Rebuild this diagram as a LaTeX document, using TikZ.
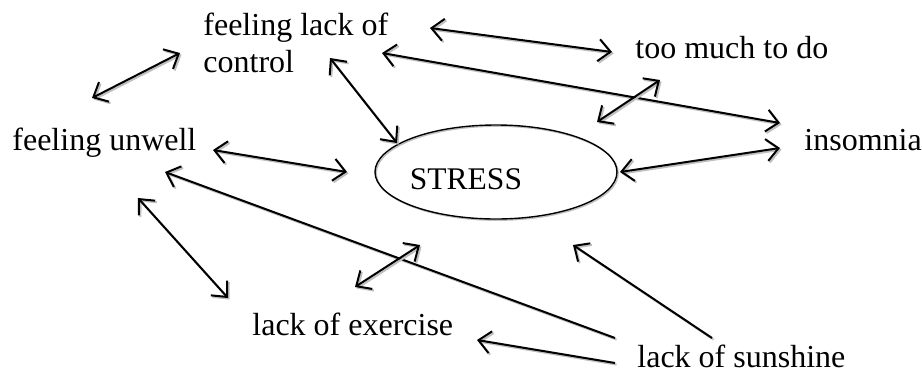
\documentclass[tikz,border=0pt]{standalone}
\usepackage{fontspec}
\setmainfont{Liberation Serif}
\usetikzlibrary{arrows.meta,shapes.geometric}
\tikzset{
  word/.style={inner sep=0pt,font=\fontsize{16}{18.5}\selectfont},
  shade/.style={preaction={draw=black!25,line width=1pt,transform canvas={shift={(0.8pt,-0.8pt)}}}},
  link/.style={shade,line width=1pt,{Straight Barb[length=6pt,width=11pt]}-{Straight Barb[length=6pt,width=11pt]}},
  oneway/.style={shade,line width=1pt,{Straight Barb[length=6pt,width=11pt]}-},
  stressbox/.style={draw,ellipse,line width=0.7pt,minimum width=121pt,minimum height=47pt,
    preaction={draw=black!25,line width=0.7pt,transform canvas={shift={(0.6pt,-0.6pt)}}}}
}
\begin{document}
\begin{tikzpicture}[x=0.5pt,y=-0.5pt]
\useasboundingbox(0,0)rectangle(922,371);
% the words round the ellipse
\node[word,anchor=base west](unwell)at(12,150){feeling unwell};
\node[word,anchor=north west,align=left](control)at(203,13){feeling lack of\\control};
\node[word,anchor=base west](toomuch)at(635,58){too much to do};
\node[word,anchor=base west](insomnia)at(804,150){insomnia};
\node[word,anchor=base west](exercise)at(252,335){lack of exercise};
\node[word,anchor=base west](sunshine)at(637,367){lack of sunshine};
\node[stressbox,label={[word,font=\fontsize{15.75}{18}\selectfont,xshift=-15pt,yshift=-3.75pt]center:STRESS}](stress)at(496,172){};
% arrow ends
\coordinate(ucA)at(92,98);   \coordinate(ucB)at(180,53);
\coordinate(csA)at(330,58);  \coordinate(csB)at(397,143);
\coordinate(usA)at(213,150); \coordinate(usB)at(347,172);
\coordinate(ctA)at(430,28);  \coordinate(ctB)at(612,52);
\coordinate(ciA)at(382,53);  \coordinate(ciB)at(780,123);
\coordinate(tsA)at(597,122); \coordinate(tsB)at(660,80);
\coordinate(siA)at(620,172); \coordinate(siB)at(780,148);
\coordinate(ueA)at(138,198); \coordinate(ueB)at(228,298);
\coordinate(suA)at(165,172); \coordinate(suB)at(615,338);
\coordinate(esA)at(355,287); \coordinate(esB)at(420,245);
\coordinate(ssA)at(573,245); \coordinate(ssB)at(712,338);
\coordinate(seA)at(477,340); \coordinate(seB)at(615,363);
\draw[link](ucA)--(ucB);
\draw[link](csA)--(csB);
\draw[link](usA)--(usB);
\draw[link](ctA)--(ctB);
\draw[link](ciA)--(ciB);
\draw[link](tsA)--(tsB);
\draw[link](siA)--(siB);
\draw[link](ueA)--(ueB);
\draw[oneway](suA)--(suB);
\draw[link](esA)--(esB);
\draw[oneway](ssA)--(ssB);
\draw[oneway](seA)--(seB);
\end{tikzpicture}
\end{document}
